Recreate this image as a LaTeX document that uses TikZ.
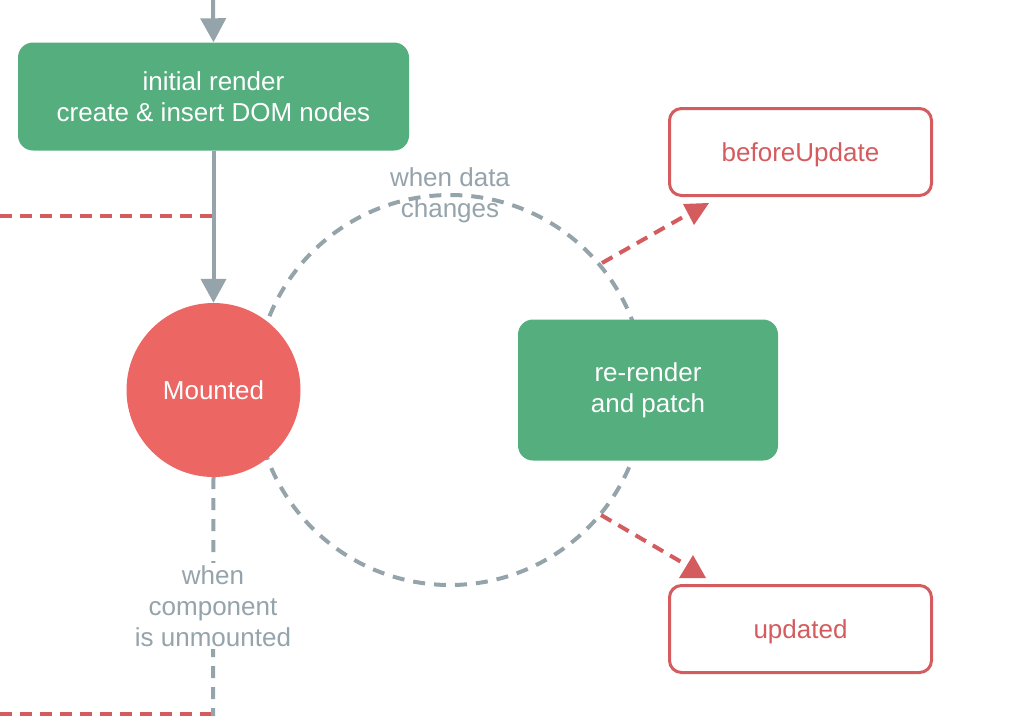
\documentclass[tikz,border=0pt]{standalone}
\usepackage{fontspec}
\setmainfont{Liberation Sans}
\usetikzlibrary{arrows.meta}
\definecolor{vgreen}{RGB}{84,174,125}
\definecolor{vred}{RGB}{236,102,100}
\definecolor{vredline}{RGB}{212,92,95}
\definecolor{vgray}{RGB}{149,163,171}
\tikzset{
  txt/.style={font=\fontsize{26pt}{31pt}\selectfont, align=center},
  greenbox/.style={txt, fill=vgreen, text=white, rounded corners=15pt, inner sep=0pt},
  redbox/.style={txt, draw=vredline, line width=3pt, fill=white, text=vredline, rounded corners=12pt,
    minimum width=262pt, minimum height=87pt, inner sep=0pt, text height=19pt, text depth=0pt},
  grayarrow/.style={draw=vgray, line width=4pt, -{Triangle[width=25pt,length=24pt]}},
  graydash/.style={draw=vgray, line width=4pt, dash pattern=on 12pt off 9pt},
  reddash/.style={draw=vredline, line width=4pt, dash pattern=on 12pt off 8pt},
  graytext/.style={txt, text=vgray, inner sep=2pt}
}
\begin{document}
\begin{tikzpicture}[x=1pt,y=-1pt]
\useasboundingbox (0,0) rectangle (1016,716);
\coordinate (cc) at (450,390);
\coordinate (top) at (213,0);
\coordinate (bottom) at (213,716);
\coordinate (leftup) at (0,216);
\coordinate (joinup) at (213,216);
\coordinate (leftdown) at (0,714);
\coordinate (joindown) at (213,714);
\coordinate (b1) at (602,263);
\coordinate (b2) at (683,217);
\coordinate (u1) at (601,515);
\coordinate (u2) at (683,563);

% update loop
\draw[graydash] (cc) circle[radius=195pt];

% left red dashed lines
\draw[reddash] (leftup) -- (joinup);
\draw[reddash] (leftdown) -- (joindown);

% nodes
\node[greenbox, minimum width=391pt, minimum height=108pt] (init) at (213.5,96.5) {initial render\\create \& insert DOM nodes};
\node[circle, fill=vred, text=white, txt, minimum size=174pt, inner sep=0pt] (mounted) at (213.5,390) {Mounted};
\node[greenbox, minimum width=260pt, minimum height=141pt] (rerender) at (648,390) {re-render\\and patch};
\node[redbox] (before) at (800.5,152) {beforeUpdate};
\node[redbox] (updated) at (800.5,629) {updated};

% gray flow
\draw[grayarrow] (top) -- (init.north);
\draw[grayarrow] (init.south) -- (mounted.north);
\draw[graydash] (mounted.south) -- (bottom);
\node[graytext, fill=white] (unmountlbl) at (213,606) {when\\component\\is unmounted};
\node[graytext] (datalbl) at (450,195) {when data\\changes};

% red hooks
\draw[reddash] (b1) -- (b2);
\fill[vredline] (683,204) -- (709,203) -- (694,225) -- cycle;
\draw[reddash] (u1) -- (u2);
\fill[vredline] (693,555) -- (706,578) -- (679,578) -- cycle;
\end{tikzpicture}
\end{document}
